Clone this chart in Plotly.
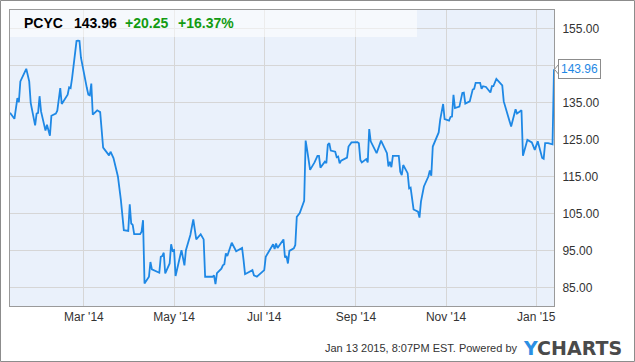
import plotly.graph_objects as go

# ---- data ----
dates = [
    "2014-01-10", "2014-01-13", "2014-01-15", "2014-01-16", "2014-01-17", "2014-01-21",
    "2014-01-23", "2014-01-24", "2014-01-27", "2014-01-28", "2014-01-29", "2014-01-30",
    "2014-01-31", "2014-02-03", "2014-02-04", "2014-02-06", "2014-02-07", "2014-02-10",
    "2014-02-11", "2014-02-13", "2014-02-14", "2014-02-18", "2014-02-19", "2014-02-20",
    "2014-02-21", "2014-02-24", "2014-02-25", "2014-02-26", "2014-02-27", "2014-02-28",
    "2014-03-03", "2014-03-04", "2014-03-05", "2014-03-06", "2014-03-07", "2014-03-10",
    "2014-03-12",
    "2014-03-14", "2014-03-17", "2014-03-18", "2014-03-19", "2014-03-21", "2014-03-24",
    "2014-03-26", "2014-03-28", "2014-03-31", "2014-04-01", "2014-04-02", "2014-04-03",
    "2014-04-04", "2014-04-08", "2014-04-09", "2014-04-10", "2014-04-11", "2014-04-14",
    "2014-04-15", "2014-04-16", "2014-04-21", "2014-04-22", "2014-04-23", "2014-04-24",
    "2014-04-25", "2014-04-28", "2014-04-29", "2014-04-30", "2014-05-01", "2014-05-02",
    "2014-05-06", "2014-05-08", "2014-05-09", "2014-05-12", "2014-05-14", "2014-05-16",
    "2014-05-19", "2014-05-21", "2014-05-22", "2014-05-27", "2014-05-28", "2014-05-29",
    "2014-05-30", "2014-06-02", "2014-06-03", "2014-06-04", "2014-06-05", "2014-06-06",
    "2014-06-09", "2014-06-12", "2014-06-16", "2014-06-17", "2014-06-18", "2014-06-23",
    "2014-06-24", "2014-06-26", "2014-06-30", "2014-07-01", "2014-07-02", "2014-07-07",
    "2014-07-08", "2014-07-09", "2014-07-10", "2014-07-14", "2014-07-15", "2014-07-16",
    "2014-07-17", "2014-07-18", "2014-07-21", "2014-07-22", "2014-07-23", "2014-07-25",
    "2014-07-28", "2014-07-29", "2014-07-30", "2014-08-01", "2014-08-04", "2014-08-06",
    "2014-08-07", "2014-08-08", "2014-08-11", "2014-08-12", "2014-08-13", "2014-08-14",
    "2014-08-15", "2014-08-18", "2014-08-19", "2014-08-20", "2014-08-21", "2014-08-22",
    "2014-08-26", "2014-08-27", "2014-08-29", "2014-09-02", "2014-09-03", "2014-09-04",
    "2014-09-05", "2014-09-08", "2014-09-09", "2014-09-10", "2014-09-11", "2014-09-15",
    "2014-09-18", "2014-09-22", "2014-09-23", "2014-09-24", "2014-09-25", "2014-09-26",
    "2014-09-30", "2014-10-01", "2014-10-02", "2014-10-03", "2014-10-06", "2014-10-07",
    "2014-10-08", "2014-10-10", "2014-10-13", "2014-10-14", "2014-10-15", "2014-10-17",
    "2014-10-20", "2014-10-21", "2014-10-22", "2014-10-23", "2014-10-27", "2014-10-28",
    "2014-10-30", "2014-10-31", "2014-11-03", "2014-11-04", "2014-11-05", "2014-11-06",
    "2014-11-07", "2014-11-10", "2014-11-12", "2014-11-13", "2014-11-14", "2014-11-17",
    "2014-11-19", "2014-11-20", "2014-11-21", "2014-11-24", "2014-11-25", "2014-11-26",
    "2014-11-28", "2014-12-01", "2014-12-02", "2014-12-03", "2014-12-05", "2014-12-08",
    "2014-12-09", "2014-12-10", "2014-12-12", "2014-12-15", "2014-12-18", "2014-12-19",
    "2014-12-22", "2014-12-23", "2014-12-26", "2014-12-29", "2014-12-31", "2015-01-02",
    "2015-01-05", "2015-01-06", "2015-01-07", "2015-01-09", "2015-01-12", "2015-01-13",
]
prices = [
    132.2, 130.6, 136.2, 135.1, 140.7, 144.1,
    140.7, 134.9, 128.8, 132.0, 132.2, 136.7,
    132.6, 127.4, 129.0, 126.0, 131.4, 132.0,
    132.8, 138.9, 134.6, 137.1, 139.1, 138.9,
    141.6, 151.6, 151.7, 151.6, 147.1, 144.8,
    138.9, 137.1, 136.9, 140.1, 131.7, 132.9,
    132.4,
    122.8, 121.3, 120.7, 121.7, 120.0, 115.0,
    108.7, 100.5, 100.3, 107.5, 102.3, 101.9,
    99.4, 99.4, 100.1, 103.2, 86.1, 87.9,
    91.9, 89.9, 89.0, 93.3, 93.5, 94.4,
    88.8, 91.5, 96.7, 94.9, 95.1, 88.1,
    95.1, 91.0, 95.1, 99.2, 103.4, 98.0,
    99.4, 98.0, 87.9, 87.9, 88.3, 85.9,
    88.9, 90.1, 91.0, 91.3, 94.2, 93.5,
    97.1, 94.8, 95.7, 92.4, 88.6, 89.7,
    88.3, 87.9, 89.5, 89.7, 93.3, 96.7,
    95.4, 96.9, 95.7, 98.0, 93.1, 93.5,
    91.5, 94.9, 95.6, 96.5, 104.1, 105.1,
    108.4, 124.7, 122.2, 116.8, 118.8, 120.6,
    120.6, 117.4, 119.0, 118.6, 123.6, 124.0,
    122.0, 121.7, 120.2, 120.4, 118.6, 119.3,
    120.1, 123.1, 124.2, 124.3, 124.0, 119.5,
    118.8, 119.7, 118.8, 127.8, 124.5, 121.3,
    124.7, 121.3, 117.7, 119.0, 117.5, 120.6,
    120.6, 116.3, 115.4, 118.1, 115.9, 111.8,
    112.0, 106.1, 105.5, 103.9, 108.2, 112.3,
    115.0, 116.6, 115.2, 123.1, 126.9, 130.3,
    134.6, 130.5, 130.1, 131.1, 131.2, 137.1,
    133.5, 133.9, 137.6, 137.7, 134.7, 135.3,
    138.5, 138.7, 140.3, 140.3, 138.7, 139.4,
    139.2, 137.7, 139.4, 139.4, 141.4, 140.1,
    139.6, 135.3, 132.3, 128.5, 133.2, 132.0,
    132.9, 120.6, 124.9, 124.2, 122.2, 124.5,
    120.0, 119.8, 124.0, 124.0, 123.71, 143.96,
]

ticker = "PCYC"
last_price = "143.96"
change_abs = "+20.25"
change_pct = "+16.37%"

x_tick_vals = ["2014-03-01", "2014-05-01", "2014-07-01", "2014-09-01", "2014-11-01", "2015-01-01"]
x_tick_text = ["Mar '14", "May '14", "Jul '14", "Sep '14", "Nov '14", "Jan '15"]
y_tick_vals = [85, 95, 105, 115, 125, 135, 145, 155]
y_tick_text = ["85.00", "95.00", "105.00", "115.00", "125.00", "135.00", "", "155.00"]

x_range = ["2014-01-10", "2015-01-13"]
y_range = [80, 160]

timestamp = "Jan 13 2015, 8:07PM EST. Powered by"

# ---- styles ----
LINE_BLUE = "#1E88E5"
GREEN = "#139B13"
FONT = "Liberation Sans, Arial, sans-serif"

W, H = 635, 362
ML, MR, MT, MB = 10, 81, 10, 56
PW, PH = W - ML - MR, H - MT - MB


def px(xp):
    return (xp - ML) / PW


def py(yp):
    return (H - MB - yp) / PH


fig = go.Figure()
fig.add_trace(go.Scatter(
    x=dates, y=prices, mode="lines",
    line=dict(color=LINE_BLUE, width=1.8),
    hoverinfo="skip", showlegend=False,
))

shapes = [
    # outer frame
    dict(type="rect", xref="paper", yref="paper",
         x0=px(0.5), x1=px(634.5), y0=py(361.5), y1=py(0.5),
         line=dict(color="#8c8c8c", width=1), fillcolor="rgba(0,0,0,0)", layer="below"),
    # header band
    dict(type="rect", xref="paper", yref="paper",
         x0=0, x1=px(417), y0=py(37), y1=1,
         line=dict(width=0), fillcolor="rgba(255,255,255,0.55)", layer="above"),
    # notch of last-value label
    dict(type="path", xref="paper", yref="y", xsizemode="pixel", ysizemode="pixel",
         xanchor=1, yanchor=prices[-1],
         path="M 5,5.5 L 0.5,0 L 5,-5.5 Z",
         line=dict(color="#8c8c8c", width=1), fillcolor="white", layer="above"),
]

annotations = []
header = [(ticker, "#000000", 21.5), (last_price, "#000000", 71.5),
          (change_abs, GREEN, 122.5), (change_pct, GREEN, 176)]
for txt, col, xp in header:
    annotations.append(dict(
        text=f"<b>{txt}</b>", xref="paper", yref="paper", x=px(xp), y=py(23),
        xanchor="left", yanchor="middle", showarrow=False,
        font=dict(family=FONT, size=14, color=col)))

annotations.append(dict(
    text=last_price, xref="paper", yref="y", x=1, y=prices[-1],
    xanchor="left", yanchor="middle", xshift=3.5, showarrow=False,
    bgcolor="white", bordercolor="#8c8c8c", borderwidth=1, borderpad=2,
    font=dict(family=FONT, size=12, color=LINE_BLUE)))

annotations.append(dict(
    text=timestamp, xref="paper", yref="paper", x=px(520), y=py(348),
    xanchor="right", yanchor="middle", showarrow=False,
    font=dict(family=FONT, size=11, color="#333333")))
annotations.append(dict(
    text="<b><span style='color:#2B8FE3'>Y</span>CHARTS</b>", xref="paper", yref="paper",
    x=px(624), y=py(347.5), xanchor="right", yanchor="middle", showarrow=False,
    font=dict(family="DejaVu Sans", size=19, color="#4A4A4A")))

fig.update_layout(
    width=W, height=H,
    margin=dict(l=ML, r=MR, t=MT, b=MB, pad=0),
    paper_bgcolor="white", plot_bgcolor="#EAF1FB",
    hovermode=False, showlegend=False,
    shapes=shapes, annotations=annotations,
    xaxis=dict(
        type="date", range=x_range, tickvals=x_tick_vals, ticktext=x_tick_text,
        showgrid=True, gridcolor="#D6D6D6", gridwidth=1,
        showline=True, linecolor="#9a9a9a", linewidth=1, mirror=True,
        ticks="", zeroline=False, fixedrange=True,
        tickfont=dict(family=FONT, size=12, color="#333333"),
    ),
    yaxis=dict(
        side="right", range=y_range, tickvals=y_tick_vals, ticktext=y_tick_text,
        showgrid=True, gridcolor="#D6D6D6", gridwidth=1,
        showline=True, linecolor="#9a9a9a", linewidth=1, mirror=True,
        ticks="", zeroline=False, fixedrange=True, ticklabelstandoff=5,
        tickfont=dict(family=FONT, size=12, color="#333333"),
    ),
)

fig.write_html("out.html", config={"displayModeBar": False})
